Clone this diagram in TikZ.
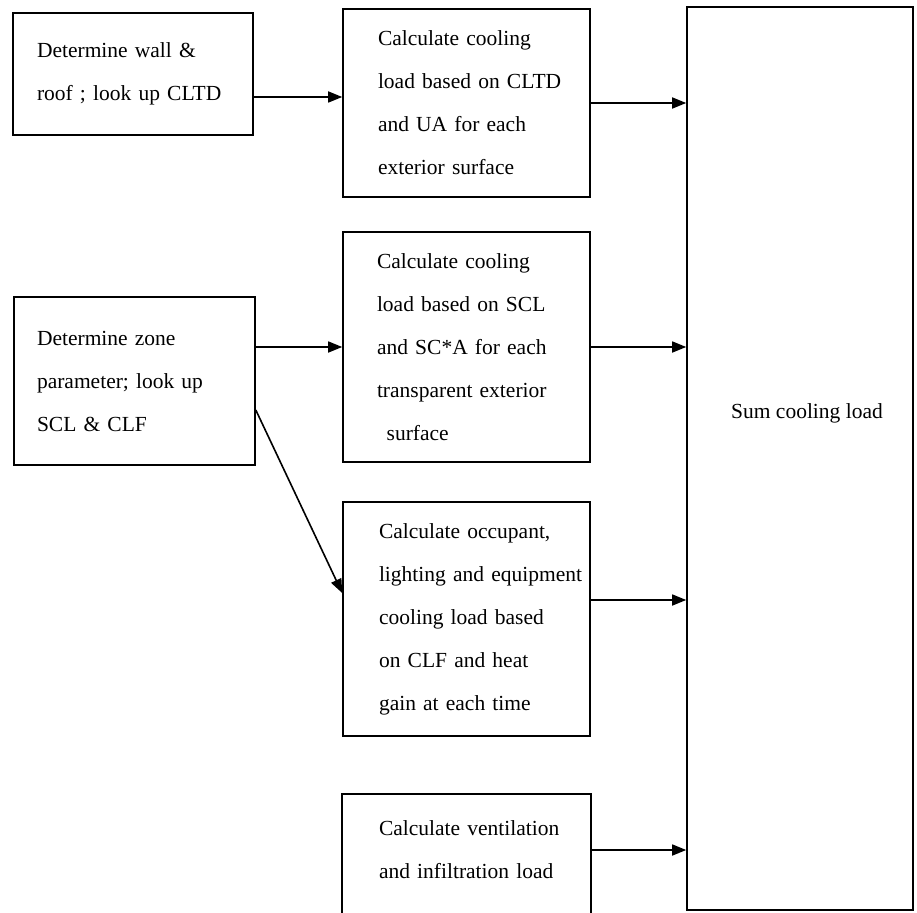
\documentclass[tikz,border=0pt]{standalone}
\usepackage{fontspec}
\setmainfont{Liberation Serif}
\usetikzlibrary{arrows.meta}
\begin{document}
\begin{tikzpicture}[x=1pt,y=-1pt,
  txtfont/.style={font=\fontsize{21.5}{43}\selectfont},
  box/.style={draw, line width=1.6pt, align=left, inner ysep=0pt, txtfont},
  arr/.style={line width=1.6pt, -{Triangle[length=14pt,width=11pt]}},
]
\useasboundingbox (0,0) rectangle (917,912);
% left column
\node[box, text width=192pt, inner xsep=24pt, minimum height=122pt] (b1) at (133,74)
  {\mbox{Determine wall \&}\\\mbox{roof ; look up CLTD}};
\node[box, text width=195pt, inner xsep=23pt, minimum height=168pt] (b4) at (134.5,381)
  {\mbox{Determine zone}\\\mbox{parameter; look up}\\\mbox{SCL \& CLF}};
% middle column
\node[box, text width=177pt, inner xsep=35pt, minimum height=188pt] (b2) at (466.5,103)
  {\mbox{Calculate cooling}\\\mbox{load based on CLTD}\\\mbox{and UA for each}\\\mbox{exterior surface}};
\node[box, text width=179pt, inner xsep=34pt, minimum height=230pt] (b3) at (466.5,347)
  {\mbox{Calculate cooling}\\\mbox{load based on SCL}\\\mbox{and SC*A for each}\\\mbox{transparent exterior}\\\mbox{\hspace{0.45em}surface}};
\node[box, text width=175pt, inner xsep=36pt, minimum height=234pt] (b5) at (466.5,619)
  {\mbox{Calculate occupant,}\\\mbox{lighting and equipment}\\\mbox{cooling load based}\\\mbox{on CLF and heat}\\\mbox{gain at each time}};
\node[box, draw=none, text width=175pt, inner xsep=36pt, minimum height=110pt] (b6) at (466.5,850)
  {\mbox{Calculate ventilation}\\\mbox{and infiltration load}};
\draw[line width=1.6pt] (b6.south west) ++(0,25) -- (b6.north west) -- (b6.north east) -- ++(0,135);
% right box
\node[draw, line width=1.6pt, minimum width=226pt, minimum height=903pt, inner sep=0pt] (sum) at (800,458.5) {};
\node[txtfont, inner sep=0pt] (sumtxt) at (807,413) {Sum cooling load};
% connectors
\coordinate (s1) at ([yshift=-23pt]b1.east);
\draw[arr] (s1) -- (s1 -| b2.west);
\draw[arr] (b2.east) -- (b2.east -| sum.west);
\draw[arr] (b3.west -| b4.east) -- (b3.west);
\draw[arr] (b3.east) -- (b3.east -| sum.west);
\coordinate (s5) at ([yshift=-29pt]b4.east);
\coordinate (e5) at ([yshift=26pt]b5.west);
\draw[arr] (s5) -- (e5);
\coordinate (s6) at ([yshift=19pt]b5.east);
\draw[arr] (s6) -- (s6 -| sum.west);
\draw[arr] (b6.east) -- (b6.east -| sum.west);
\end{tikzpicture}
\end{document}
